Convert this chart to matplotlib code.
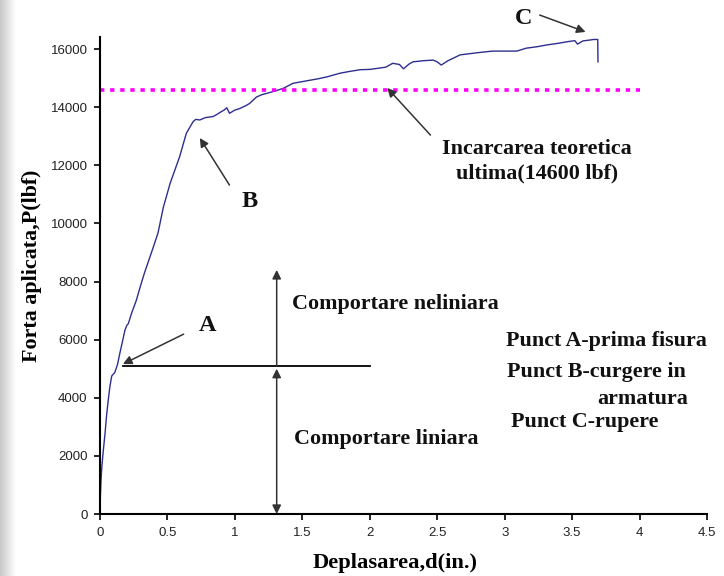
import numpy as np
import matplotlib.pyplot as plt

# load-deflection curve of the beam test
disp = [0.0, 0.003, 0.008, 0.015, 0.025, 0.038, 0.05, 0.062, 0.074, 0.087, 0.1, 0.11,
        0.13, 0.148, 0.165, 0.185, 0.2, 0.21, 0.235, 0.27, 0.297, 0.33, 0.37, 0.40,
        0.43, 0.47, 0.52, 0.56, 0.59, 0.64, 0.69, 0.71, 0.74, 0.78, 0.84, 0.87,
        0.89, 0.92, 0.94, 0.96, 1.0, 1.04, 1.08, 1.11, 1.16, 1.2, 1.24, 1.3,
        1.36, 1.43, 1.5, 1.56, 1.62, 1.68, 1.78, 1.85, 1.93, 2.0, 2.08, 2.12,
        2.17, 2.22, 2.25, 2.29, 2.32, 2.4, 2.47, 2.5, 2.53, 2.58, 2.67, 2.79,
        2.91, 3.0, 3.09, 3.16, 3.24, 3.31, 3.4, 3.46, 3.52, 3.54, 3.58, 3.63,
        3.66, 3.69, 3.692]
load = [0, 600, 1200, 1700, 2200, 2800, 3450, 3950, 4400, 4750, 4820, 4870,
        5150, 5550, 5900, 6330, 6500, 6550, 6920, 7360, 7800, 8300, 8840, 9250,
        9670, 10560, 11380, 11900, 12290, 13100, 13500, 13580, 13560, 13640, 13680, 13760,
        13820, 13900, 13980, 13790, 13900, 13960, 14050, 14130, 14350, 14430, 14480, 14560,
        14650, 14820, 14880, 14930, 14980, 15040, 15170, 15230, 15290, 15300, 15350, 15380,
        15510, 15470, 15320, 15480, 15560, 15600, 15620, 15560, 15450, 15600, 15800, 15870,
        15930, 15930, 15930, 16030, 16080, 16140, 16200, 16250, 16290, 16170, 16280, 16310,
        16330, 16330, 15560]

x_ticks = [0, 0.5, 1, 1.5, 2, 2.5, 3, 3.5, 4, 4.5]
y_ticks = [0, 2000, 4000, 6000, 8000, 10000, 12000, 14000, 16000]

theory_load = 14600
crack_load = 5100
limit_top = 8400
arrow_x = 1.31

serif = ['Liberation Serif', 'DejaVu Serif']
sans = ['Liberation Sans', 'DejaVu Sans']

fig = plt.figure(figsize=(7.24, 5.76), dpi=100)

# grey shadow strip along the left edge
shade = fig.add_axes([0, 0, 0.022, 1])
shade.imshow(np.linspace(0.78, 1.0, 64)[None, :], cmap='gray', vmin=0, vmax=1,
             aspect='auto', extent=[0, 1, 0, 1])
shade.axis('off')

ax = fig.add_axes([0.1381, 0.1076, 0.8384, 0.8274])
ax.plot(disp, load, color='#2e2e8f', lw=1.0)
ax.plot([0, 4], [theory_load, theory_load], color='#ff00ff', lw=2.6,
        linestyle=(0, (1.2, 1.6)))

ax.set_xlim(0, 4.5)
ax.set_ylim(0, 16400)
ax.set_xticks(x_ticks)
ax.set_xticklabels([f'{t:g}' for t in x_ticks], family=sans, fontsize=9.5, color='#222')
ax.set_yticks(y_ticks)
ax.set_yticklabels([str(t) for t in y_ticks], family=sans, fontsize=9.5, color='#222')
ax.tick_params(direction='out', length=4, width=1.2, pad=5)
for side in ['top', 'right']:
    ax.spines[side].set_visible(False)
for side in ['left', 'bottom']:
    ax.spines[side].set_linewidth(1.5)

ax.set_xlabel('Deplasarea,d(in.)', family=serif, fontweight='bold', fontsize=16.2)
ax.set_ylabel('Forta aplicata,P(lbf)', family=serif, fontweight='bold', fontsize=15.8)
ax.xaxis.set_label_coords(0.486, -0.082)
ax.yaxis.set_label_coords(-0.0955, 0.52)

# first crack level and the linear / nonlinear zones
ax.plot([0.17, 2.0], [crack_load, crack_load], color='black', lw=1.3)
arr = dict(color='#333', lw=1.1, mutation_scale=13, shrinkA=0, shrinkB=0)
ax.annotate('', xy=(arrow_x, limit_top), xytext=(arrow_x, crack_load),
            arrowprops=dict(arrowstyle='-|>', **arr))
ax.annotate('', xy=(arrow_x, 0), xytext=(arrow_x, crack_load - 100),
            arrowprops=dict(arrowstyle='<|-|>', **arr))

txt = dict(family=serif, fontweight='bold', fontsize=15.8, color='#111')
ax.text(1.42, 7230, 'Comportare neliniara', va='center', ha='left', **txt)
ax.text(1.44, 2580, 'Comportare liniara', va='center', ha='left', **txt)
ax.text(3.01, 5960, 'Punct A-prima fisura', va='center', ha='left', **txt)
ax.text(3.02, 4900, 'Punct B-curgere in', va='center', ha='left', **txt)
ax.text(3.69, 3970, 'armatura', va='center', ha='left', **txt)
ax.text(3.05, 3150, 'Punct C-rupere', va='center', ha='left', **txt)
ax.text(3.24, 12130, 'Incarcarea teoretica\nultima(14600 lbf)', va='center', ha='center',
        multialignment='center', linespacing=1.3, **txt)

# point labels with arrows
lab = dict(family=serif, fontweight='bold', fontsize=17.5, color='#111')
ax.annotate('', xy=(0.17, 5160), xytext=(0.62, 6190), arrowprops=dict(arrowstyle='-|>', **arr))
ax.text(0.80, 6500, 'A', ha='center', va='center', **lab)
ax.annotate('', xy=(0.74, 12940), xytext=(0.96, 11320), arrowprops=dict(arrowstyle='-|>', **arr))
ax.text(1.11, 10740, 'B', ha='center', va='center', **lab)
ax.annotate('', xy=(3.6, 16590), xytext=(3.26, 17170), arrowprops=dict(arrowstyle='-|>', **arr),
            annotation_clip=False)
ax.text(3.14, 17040, 'C', ha='center', va='center', clip_on=False, **lab)
ax.annotate('', xy=(2.13, 14660), xytext=(2.45, 13040), arrowprops=dict(arrowstyle='-|>', **arr))

fig.savefig('out.png', dpi=100)
